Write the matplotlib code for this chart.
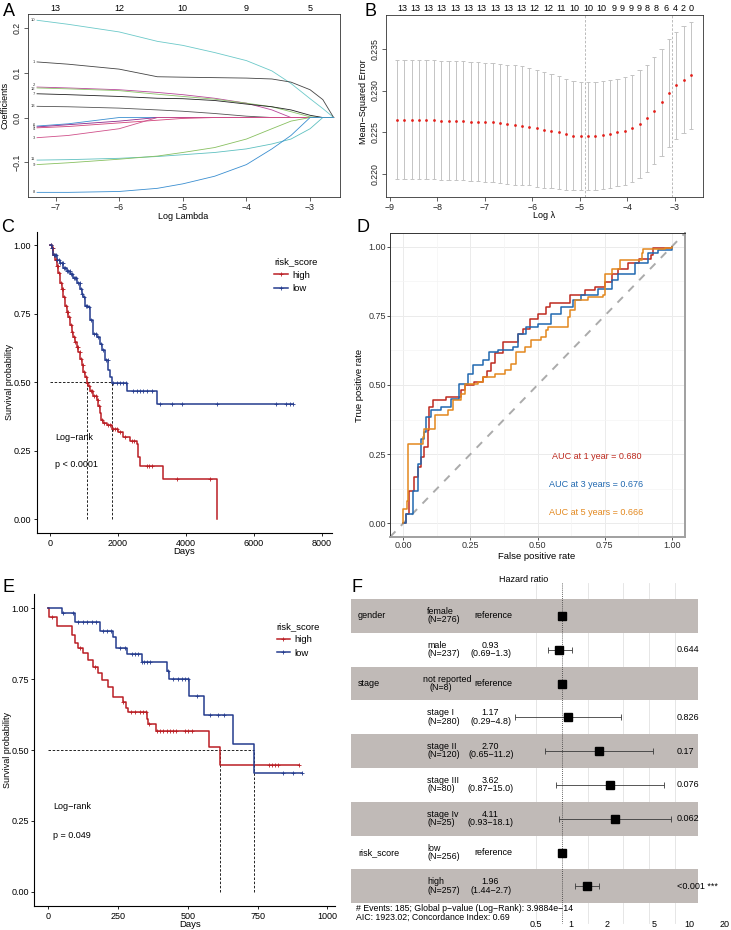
import numpy as np
import matplotlib
matplotlib.use("Agg")
import matplotlib.pyplot as plt
import matplotlib.transforms as mtransforms
from matplotlib.lines import Line2D

plt.rcParams.update({
    "font.family": ["Liberation Sans", "DejaVu Sans"],
    "font.size": 6.5,
    "axes.unicode_minus": True,
})

# ── Panel A: lasso coefficient paths ─────────────────────────────────────────
lasso_loglam = [-7.29, -6.8, -6.0, -5.4, -5.0, -4.5, -4.0, -3.6, -3.3, -3.0, -2.8, -2.63]
coef_labels = ["10", "1", "2", "12", "7", "13", "6", "5", "4", "3", "11", "9", "8"]
coef_paths = [
    [0.217, 0.208, 0.191, 0.170, 0.161, 0.145, 0.127, 0.104, 0.076, 0.042, 0.020, 0.0],
    [0.124, 0.119, 0.108, 0.091, 0.090, 0.089, 0.088, 0.086, 0.079, 0.062, 0.040, 0.0],
    [0.068, 0.066, 0.062, 0.056, 0.051, 0.043, 0.032, 0.017, 0.0, 0.0, 0.0, 0.0],
    [0.066, 0.064, 0.060, 0.052, 0.047, 0.041, 0.032, 0.024, 0.013, 0.0015, 0.0, 0.0],
    [0.053, 0.051, 0.047, 0.043, 0.042, 0.038, 0.030, 0.024, 0.017, 0.005, 0.0, 0.0],
    [0.025, 0.024, 0.021, 0.017, 0.014, 0.009, 0.003, 0.0, 0.0, 0.0, 0.0, 0.0],
    [-0.019, -0.014, 0.0, 0.0, 0.0, 0.0, 0.0, 0.0, 0.0, 0.0, 0.0, 0.0],
    [-0.021, -0.016, -0.008, 0.0, 0.0, 0.0, 0.0, 0.0, 0.0, 0.0, 0.0, 0.0],
    [-0.023, -0.020, -0.012, -0.006, -0.002, 0.0, 0.0, 0.0, 0.0, 0.0, 0.0, 0.0],
    [-0.045, -0.040, -0.025, 0.0, 0.0, 0.0, 0.0, 0.0, 0.0, 0.0, 0.0, 0.0],
    [-0.095, -0.094, -0.091, -0.087, -0.083, -0.078, -0.070, -0.059, -0.048, -0.025, 0.0, 0.0],
    [-0.105, -0.101, -0.093, -0.086, -0.078, -0.067, -0.048, -0.025, -0.008, 0.0, 0.0, 0.0],
    [-0.167, -0.167, -0.165, -0.158, -0.148, -0.131, -0.105, -0.070, -0.040, 0.0, 0.0, 0.0],
]
# small vertical nudges so the tiny path labels do not sit on top of each other
coef_label_nudge = [0, 0, 0.004, -0.003, 0, 0, 0.003, 0, -0.003, 0, 0.002, -0.002, 0]
coef_colors = ["#6cc9c9", "#444444", "#b8479a", "#8cc46a", "#222222", "#555555",
               "#3b8fd0", "#8b2a8c", "#d2447a", "#d0508a", "#5ec0c0", "#88c060", "#3a8ed0"]
lasso_top_ticks = [-7, -6, -5, -4, -3]
lasso_top_labels = ["13", "12", "10", "9", "5"]

# ── Panel B: cross-validation curve ──────────────────────────────────────────
cv_loglam = np.linspace(-8.85, -2.66, 41)
cv_mse = [0.2265, 0.2265, 0.2265, 0.2265, 0.2265, 0.2265, 0.2264, 0.2264, 0.2264, 0.2264,
          0.2263, 0.2263, 0.2262, 0.2262, 0.2261, 0.2260, 0.2259, 0.2258, 0.2257, 0.2255,
          0.2253, 0.2252, 0.2250, 0.2248, 0.2246, 0.2246, 0.2246, 0.2246, 0.2247, 0.2248,
          0.2250, 0.2252, 0.2255, 0.2260, 0.2267, 0.2276, 0.2286, 0.2297, 0.2306, 0.2313,
          0.2318]
cv_se = [0.0071] * 18 + [0.0070, 0.0070, 0.0069, 0.0068, 0.0067, 0.0066, 0.0065] + [0.0064] * 16
cv_lambda_min, cv_lambda_1se = -4.89, -3.06
cv_top_ticks = [-8.75, -8.47, -8.19, -7.91, -7.63, -7.35, -7.07, -6.79, -6.51, -6.23,
                -5.95, -5.67, -5.39, -5.11, -4.83, -4.54, -4.28, -4.10, -3.93, -3.75,
                -3.58, -3.40, -3.19, -3.00, -2.83, -2.65]
cv_top_labels = ["13"] * 10 + ["12", "12", "11", "10", "10", "10",
                               "9", "9", "9", "9", "8", "8", "6", "4", "2", "0"]

# ── Panel C: KM curves, training set ─────────────────────────────────────────
c_high_t = [0, 49, 98, 147, 196, 245, 294, 344, 393, 442, 491, 540, 589, 638, 687, 736,
            785, 834, 883, 933, 982, 1031, 1080, 1129, 1178, 1276, 1374, 1423, 1472, 1490,
            1570, 1668, 1816, 2012, 2159, 2356, 2552, 2600, 2650, 3337, 4908]
c_high_s = [1.0, 0.990, 0.966, 0.948, 0.924, 0.900, 0.864, 0.840, 0.810, 0.780, 0.756,
            0.738, 0.708, 0.684, 0.665, 0.647, 0.629, 0.611, 0.587, 0.563, 0.539, 0.521,
            0.499, 0.485, 0.467, 0.449, 0.437, 0.413, 0.389, 0.362, 0.353, 0.343, 0.328,
            0.317, 0.300, 0.285, 0.274, 0.227, 0.196, 0.148, 0.0]
c_low_t = [0, 49, 98, 196, 294, 393, 491, 589, 687, 785, 883, 933, 982, 1031, 1129, 1178,
           1276, 1374, 1472, 1521, 1619, 1718, 1767, 1816, 2258, 3141, 7165]
c_low_s = [1.0, 0.990, 0.966, 0.948, 0.936, 0.918, 0.906, 0.894, 0.882, 0.864, 0.840,
           0.822, 0.810, 0.780, 0.774, 0.726, 0.677, 0.665, 0.641, 0.617, 0.581, 0.545,
           0.521, 0.497, 0.470, 0.421, 0.421]
c_high_cens = [20, 60, 90, 130, 170, 200, 240, 270, 310, 350, 380, 420, 460, 500, 530, 570,
               610, 650, 700, 740, 790, 830, 870, 920, 960, 1010, 1060, 1100, 1150, 1200,
               1250, 1300, 1340, 1400, 1450, 1520, 1600, 1700, 1760, 1850, 1900, 1960, 2050,
               2200, 2400, 2480, 2847, 2920, 2994, 3731, 4713]
c_low_cens = [30, 70, 110, 150, 180, 220, 260, 300, 340, 380, 420, 450, 500, 540, 580, 620,
              660, 700, 740, 780, 830, 870, 900, 950, 1000, 1060, 1100, 1150, 1220, 1300,
              1350, 1420, 1500, 1560, 1650, 1700, 1865, 1963, 2061, 2159, 2238, 2454, 2552,
              2650, 2748, 2847, 2994, 3239, 3602, 3877, 4927, 6655, 6949, 7067, 7165]

# ── Panel D: time-dependent ROC ──────────────────────────────────────────────
roc1_fpr = [0, 0.008, 0.022, 0.041, 0.055, 0.066, 0.078, 0.091, 0.097, 0.11, 0.159, 0.215,
            0.228, 0.265, 0.296, 0.31, 0.325, 0.34, 0.371, 0.427, 0.446, 0.471, 0.502, 0.533,
            0.545, 0.62, 0.676, 0.714, 0.751, 0.776, 0.80, 0.838, 0.88, 0.925, 0.931, 1.0]
roc1_tpr = [0, 0.034, 0.118, 0.167, 0.203, 0.24, 0.275, 0.336, 0.42, 0.444, 0.457, 0.481,
            0.499, 0.511, 0.529, 0.55, 0.58, 0.614, 0.656, 0.686, 0.704, 0.74, 0.758, 0.783,
            0.795, 0.825, 0.843, 0.855, 0.873, 0.903, 0.92, 0.94, 0.955, 0.97, 0.994, 1.0]
roc3_fpr = [0, 0.01, 0.035, 0.054, 0.066, 0.078, 0.085, 0.103, 0.141, 0.178, 0.209, 0.24,
            0.259, 0.296, 0.321, 0.352, 0.408, 0.427, 0.458, 0.502, 0.552, 0.589, 0.633,
            0.664, 0.726, 0.776, 0.801, 0.863, 0.913, 0.95, 1.0]
roc3_tpr = [0, 0.034, 0.118, 0.215, 0.306, 0.33, 0.384, 0.408, 0.42, 0.45, 0.505, 0.541,
            0.571, 0.589, 0.62, 0.626, 0.638, 0.686, 0.71, 0.722, 0.758, 0.783, 0.807,
            0.825, 0.849, 0.879, 0.903, 0.94, 0.976, 0.99, 1.0]
roc5_fpr = [0, 0, 0.012, 0.016, 0.072, 0.077, 0.116, 0.166, 0.184, 0.215, 0.228, 0.278,
            0.296, 0.34, 0.377, 0.402, 0.421, 0.452, 0.477, 0.514, 0.533, 0.539, 0.614, 0.62,
            0.639, 0.689, 0.745, 0.751, 0.776, 0.807, 0.888, 0.894, 0.975, 1.0]
roc5_tpr = [0, 0.05, 0.08, 0.287, 0.312, 0.342, 0.39, 0.408, 0.444, 0.469, 0.505, 0.511,
            0.529, 0.541, 0.553, 0.577, 0.62, 0.638, 0.662, 0.674, 0.698, 0.71, 0.746, 0.771,
            0.807, 0.819, 0.825, 0.903, 0.921, 0.952, 0.976, 0.992, 0.994, 1.0]
roc_labels = ["AUC at 1 year = 0.680", "AUC at 3 years = 0.676", "AUC at 5 years = 0.666"]

# ── Panel E: KM curves, validation set ───────────────────────────────────────
e_high_t = [0, 3, 32, 84, 96, 108, 125, 143, 161, 179, 191, 215, 233, 269, 278, 287, 352,
            358, 385, 576, 615, 898]
e_high_s = [1.0, 0.97, 0.938, 0.905, 0.876, 0.858, 0.841, 0.817, 0.794, 0.770, 0.747,
            0.723, 0.688, 0.670, 0.647, 0.635, 0.611, 0.590, 0.568, 0.511, 0.447, 0.447]
e_low_t = [0, 51, 96, 185, 233, 243, 281, 335, 424, 433, 505, 558, 663, 738, 910]
e_low_s = [1.0, 0.984, 0.952, 0.919, 0.899, 0.858, 0.838, 0.811, 0.780, 0.749, 0.690,
           0.622, 0.520, 0.418, 0.418]
e_high_cens = [14, 113, 167, 269, 296, 311, 327, 341, 349, 362, 388, 400, 412, 424, 436,
               448, 456, 490, 502, 514, 789, 800, 812, 824, 898]
e_low_cens = [54, 90, 108, 125, 140, 155, 171, 197, 211, 225, 257, 275, 299, 311, 323, 335,
              343, 352, 364, 430, 448, 466, 478, 490, 499, 532, 579, 609, 630, 842, 878, 910]

# ── Panel F: multivariate Cox forest plot ────────────────────────────────────
f_levels = ["female", "male", "not reported", "stage I", "stage II", "stage III",
            "stage Iv", "low", "high"]
f_n = [276, 237, 8, 280, 120, 80, 25, 256, 257]
f_hr = [1.0, 0.93, 1.0, 1.17, 2.70, 3.62, 4.11, 1.0, 1.96]
f_lo = [np.nan, 0.69, np.nan, 0.29, 0.65, 0.87, 0.93, np.nan, 1.44]
f_hi = [np.nan, 1.3, np.nan, 4.8, 11.2, 15.0, 18.1, np.nan, 2.7]
f_ci_text = ["", "(0.69\u22121.3)", "", "(0.29\u22124.8)", "(0.65\u221211.2)",
             "(0.87\u221215.0)", "(0.93\u221218.1)", "", "(1.44\u22122.7)"]
f_est_text = ["", "0.93", "", "1.17", "2.70", "3.62", "4.11", "", "1.96"]
f_pval = ["", "0.644", "", "0.826", "0.17", "0.076", "0.062", "", "<0.001 ***"]
f_vars = [("gender", 0), ("stage", 2), ("risk_score", 7)]
f_axis_labels = ["0.5", "1", "2", "5", "10", "20"]
f_grid = [0.5, 2, 5, 10, 20]

# ── Colours ──────────────────────────────────────────────────────────────────
RED = "#BA1E24"
BLUE = "#253C8E"
ROC_COLS = ["#BE2A1F", "#2068B0", "#E3881E"]
ROW_GRAY = "#C0BAB7"

W, H = 731, 930
fig = plt.figure(figsize=(W / 100, H / 100), dpi=100, facecolor="white")


def axes_px(x0, y0, x1, y1):
    return fig.add_axes([x0 / W, 1 - y1 / H, (x1 - x0) / W, (y1 - y0) / H])


def text_px(x, y, s, **kw):
    fig.text(x / W, 1 - y / H, s, **kw)


def base_box(ax):
    for sp in ax.spines.values():
        sp.set_linewidth(0.6)
        sp.set_color("#333333")
    ax.tick_params(direction="out", length=3, width=0.5, pad=1.2, labelsize=6.3,
                   colors="#222222")


# ── A ──
ax = axes_px(27.5, 14, 340, 197.3)
for vals, col, lab, dy in zip(coef_paths, coef_colors, coef_labels, coef_label_nudge):
    ax.plot(lasso_loglam, vals, color=col, lw=0.6)
    ax.text(lasso_loglam[0] - 0.03, vals[0] + dy, lab, fontsize=3.0, ha="right",
            va="center", color="#333333")
ax.set_xlim(-7.44, -2.53)
ax.set_ylim(-0.178, 0.231)
base_box(ax)
ax.set_xticks([-7, -6, -5, -4, -3])
ax.set_yticks([-0.1, 0.0, 0.1, 0.2])
ax.set_yticklabels(["\u22120.1", "0.0", "0.1", "0.2"], rotation=90, va="center")
top = ax.secondary_xaxis("top")
top.set_xticks(lasso_top_ticks, lasso_top_labels)
top.tick_params(length=0, labelsize=6.5, pad=0.8)
top.spines["top"].set_visible(False)
text_px(183, 216, "Log Lambda", ha="center", va="center", fontsize=6.5)
text_px(5, 105, "Coefficients", ha="center", va="center", rotation=90, fontsize=6.5)

# ── B ──
ax = axes_px(385.7, 15, 703.3, 196.7)
mse = np.array(cv_mse)
se = np.array(cv_se)
cap = 0.045
ax.vlines(cv_loglam, mse - se, mse + se, color="#C4C4C4", lw=0.7)
ax.hlines(mse + se, cv_loglam - cap, cv_loglam + cap, color="#C4C4C4", lw=0.7)
ax.hlines(mse - se, cv_loglam - cap, cv_loglam + cap, color="#C4C4C4", lw=0.7)
ax.plot(cv_loglam, mse, "o", color="#E3201B", ms=2.0, mew=0)
for v in (cv_lambda_min, cv_lambda_1se):
    ax.axvline(v, color="#B0B0B0", lw=0.6, ls=(0, (3, 2)))
ax.set_xlim(-9.09, -2.40)
ax.set_ylim(0.21735, 0.2390)
base_box(ax)
ax.set_xticks([-9, -8, -7, -6, -5, -4, -3])
ax.set_yticks([0.220, 0.225, 0.230, 0.235])
ax.set_yticklabels(["0.220", "0.225", "0.230", "0.235"], rotation=90, va="center")
top = ax.secondary_xaxis("top")
top.set_xticks(cv_top_ticks, cv_top_labels)
top.tick_params(length=0, labelsize=6.5, pad=1.5)
top.spines["top"].set_visible(False)
text_px(544, 215, "Log \u03bb", ha="center", va="center", fontsize=6.5)
text_px(363, 102, "Mean\u2212Squared Error", ha="center", va="center", rotation=90,
        fontsize=6.5)


# ── KM helper ──
def step_value(times, surv, t):
    idx = np.searchsorted(times, t, side="right") - 1
    return np.asarray(surv)[idx]


def km_panel(ax, curves, xlim, xticks, leg_y):
    medians = []
    for times, surv, cens, col in curves:
        ax.step(times, surv, where="post", color=col, lw=1.1, zorder=3)
        cy = step_value(np.asarray(times), surv, np.asarray(cens))
        ax.plot(cens, cy, "+", color=col, ms=3.5, mew=0.6, zorder=4)
        s = np.asarray(surv)
        medians.append(np.asarray(times)[np.argmax(s <= 0.5)])
    ax.plot([0, max(medians)], [0.5, 0.5], color="black", lw=0.6, ls=(0, (3, 2)), zorder=2)
    for m in medians:
        ax.plot([m, m], [0, 0.5], color="black", lw=0.6, ls=(0, (3, 2)), zorder=2)
    ax.set_xlim(*xlim)
    ax.set_ylim(-0.05, 1.05)
    for s in ("top", "right"):
        ax.spines[s].set_visible(False)
    for s in ("left", "bottom"):
        ax.spines[s].set_linewidth(0.8)
    ax.set_xticks(xticks)
    ax.set_yticks([0, 0.25, 0.5, 0.75, 1.0])
    ax.set_yticklabels(["0.00", "0.25", "0.50", "0.75", "1.00"])
    ax.tick_params(direction="out", length=2.5, width=0.6, pad=1.5, labelsize=6.5,
                   colors="black")
    handles = [Line2D([], [], color=RED, lw=1.1, marker="+", ms=3.5, mew=0.6),
               Line2D([], [], color=BLUE, lw=1.1, marker="+", ms=3.5, mew=0.6)]
    ax.legend(handles, ["high", "low"], title="risk_score", loc="upper left",
              bbox_to_anchor=(0.79, leg_y), frameon=False, fontsize=6.8,
              title_fontsize=6.8, handlelength=1.4, handletextpad=0.5,
              labelspacing=0.45, borderpad=0, alignment="left")


# ── C ──
ax = axes_px(36.7, 231.7, 331.7, 533)
km_panel(ax, [(c_high_t, c_high_s, c_high_cens, RED), (c_low_t, c_low_s, c_low_cens, BLUE)],
         (-392, 8295), [0, 2000, 4000, 6000, 8000], 0.93)
ax.text(150, 0.30, "Log\u2212rank", fontsize=6.5, ha="left", va="center")
ax.text(150, 0.20, "p < 0.0001", fontsize=6.5, ha="left", va="center")
text_px(9.5, 382, "Survival probability", rotation=90, ha="center", va="center", fontsize=6.5)
text_px(184, 552, "Days", ha="center", va="center", fontsize=6.8)

# ── D ──
ax = axes_px(390, 233, 685, 537)
ax.set_xlim(-0.05, 1.05)
ax.set_ylim(-0.05, 1.05)
ticks = [0, 0.25, 0.5, 0.75, 1.0]
minor = [0.125, 0.375, 0.625, 0.875]
for t in ticks:
    ax.axvline(t, color="#EBEBEB", lw=0.7, zorder=0)
    ax.axhline(t, color="#EBEBEB", lw=0.7, zorder=0)
for t in minor:
    ax.axvline(t, color="#F4F4F4", lw=0.5, zorder=0)
    ax.axhline(t, color="#F4F4F4", lw=0.5, zorder=0)
ax.plot([-0.05, 1.05], [-0.05, 1.05], color="#ABABAB", lw=1.4, ls=(0, (4, 4)), zorder=1)
for fpr, tpr, col in zip([roc1_fpr, roc3_fpr, roc5_fpr], [roc1_tpr, roc3_tpr, roc5_tpr],
                         ROC_COLS):
    ax.step(fpr, tpr, where="post", color=col, lw=1.1, zorder=3)
for lab, col, y in zip(roc_labels, ROC_COLS, [0.242, 0.14, 0.04]):
    ax.text(0.72, y, lab, color=col, fontsize=6.5, ha="center", va="center")
ax.set_xticks(ticks)
ax.set_yticks(ticks)
ax.set_xticklabels(["0.00", "0.25", "0.50", "0.75", "1.00"])
ax.set_yticklabels(["0.00", "0.25", "0.50", "0.75", "1.00"])
ax.tick_params(direction="out", length=2.0, width=0.6, pad=1.0, labelsize=6.5,
               colors="#333333")
for s in ("left", "top"):
    ax.spines[s].set_linewidth(0.7)
    ax.spines[s].set_color("#333333")
for s in ("right", "bottom"):
    ax.spines[s].set_linewidth(1.4)
    ax.spines[s].set_color("#A0A0A0")
text_px(360, 385, "True positive rate", rotation=90, ha="center", va="center", fontsize=6.8)
text_px(537, 556, "False positive rate", ha="center", va="center", fontsize=6.8)

# ── E ──
ax = axes_px(34.3, 594, 335, 906)
km_panel(ax, [(e_high_t, e_high_s, e_high_cens, RED), (e_low_t, e_low_s, e_low_cens, BLUE)],
         (-50, 1027), [0, 250, 500, 750, 1000], 0.925)
ax.text(18, 0.30, "Log\u2212rank", fontsize=6.5, ha="left", va="center")
ax.text(18, 0.20, "p = 0.049", fontsize=6.5, ha="left", va="center")
text_px(7.5, 750, "Survival probability", rotation=90, ha="center", va="center", fontsize=6.5)
text_px(190, 924, "Days", ha="center", va="center", fontsize=6.8)

# ── F ──
ax = axes_px(350.7, 575, 697.7, 930)
ax.set_xscale("log")
ax.set_xlim(10 ** -2.425, 10 ** 1.563)
ax.set_ylim(9.29, -1.21)
ax.axis("off")
rows = np.arange(len(f_levels))
for i in rows:
    if i % 2 == 0:
        ax.axhspan(i - 0.5, i + 0.5, color=ROW_GRAY, lw=0, zorder=1)
for g in f_grid:
    ax.plot([g, g], [-0.97, 9.09], color="#E2E2E2", lw=0.6, zorder=0, clip_on=False)
ax.plot([1, 1], [-0.97, 9.09], color="#333333", lw=0.6, ls=(0, (1, 1.5)), zorder=3,
        clip_on=False)
hr = np.array(f_hr)
lo = np.array(f_lo)
hi = np.array(f_hi)
ax.errorbar(hr, rows, xerr=[hr - lo, hi - hr], fmt="none", ecolor="#3A3A3A",
            elinewidth=0.6, capsize=2.4, capthick=0.6, zorder=4)
ax.plot(hr, rows, "s", color="black", ms=5.2, zorder=5)
tr = mtransforms.blended_transform_factory(ax.transAxes, ax.transData)


def fx(px):
    return (px - 350.7) / 347.0


for name, r in f_vars:
    ax.text(fx(358), r, name, transform=tr, ha="left", va="center", fontsize=6.5)
for i in rows:
    lx = fx(423) if f_levels[i] == "not reported" else fx(427)
    ax.text(lx, i - 0.13, f_levels[i], transform=tr, ha="left", va="center", fontsize=6.4)
    nx = fx(429) if f_levels[i] == "not reported" else fx(427)
    ax.text(nx, i + 0.11, f"(N={f_n[i]})", transform=tr, ha="left", va="center",
            fontsize=6.4)
    if f_est_text[i]:
        ax.text(fx(490), i - 0.13, f_est_text[i], transform=tr, ha="center", va="center",
                fontsize=6.4)
        ax.text(fx(491), i + 0.11, f_ci_text[i], transform=tr, ha="center", va="center",
                fontsize=6.4)
    else:
        ax.text(fx(493), i, "reference", transform=tr, ha="center", va="center",
                fontsize=6.5)
    if f_pval[i]:
        ax.text(fx(677), i, f_pval[i], transform=tr, ha="left", va="center", fontsize=6.5)
ax.text(fx(523.3), -1.09, "Hazard ratio", transform=tr, ha="center", va="center",
        fontsize=6.5)
ax.text(fx(356), 8.65, "# Events: 185; Global p\u2212value (Log\u2212Rank): 3.9884e\u221214",
        transform=tr, ha="left", va="center", fontsize=6.3)
ax.text(fx(356), 8.90, "AIC: 1923.02; Concordance Index: 0.69", transform=tr, ha="left",
        va="center", fontsize=6.3)
for lab, px in zip(f_axis_labels, [535.7, 571, 606.7, 653.7, 689, 724.3]):
    ax.text(fx(px), 9.13, lab, transform=tr, ha="center", va="center", fontsize=6.5,
            clip_on=False)

# ── Panel letters ──
for letter, x, y in [("A", 9, 12), ("B", 371, 11), ("C", 8, 228), ("D", 363, 228),
                     ("E", 8, 588), ("F", 357, 588)]:
    text_px(x, y, letter, ha="center", va="center", fontsize=13)

fig.savefig("out.png", dpi=100, facecolor="white")
